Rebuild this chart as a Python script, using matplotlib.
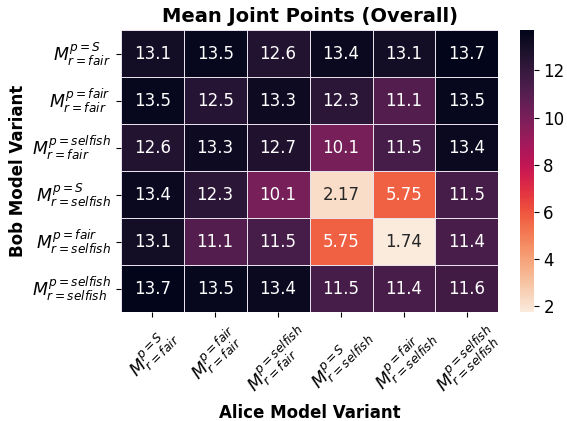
import numpy as np
import matplotlib
matplotlib.use("Agg")
import matplotlib.pyplot as plt
import seaborn as sns

labels = [r"$M^{p=S}_{r=fair}$", r"$M^{p=fair}_{r=fair}$", r"$M^{p=selfish}_{r=fair}$",
          r"$M^{p=S}_{r=selfish}$", r"$M^{p=fair}_{r=selfish}$", r"$M^{p=selfish}_{r=selfish}$"]

row0 = [13.1, 13.5, 12.6, 13.4, 13.1, 13.7]
row1 = [13.5, 12.5, 13.3, 12.3, 11.1, 13.5]
row2 = [12.6, 13.3, 12.7, 10.1, 11.5, 13.4]
row3 = [13.4, 12.3, 10.1, 2.17, 5.75, 11.5]
row4 = [13.1, 11.1, 11.5, 5.75, 1.74, 11.4]
row5 = [13.7, 13.5, 13.4, 11.5, 11.4, 11.6]
values = np.array([row0, row1, row2, row3, row4, row5])

fig = plt.figure(figsize=(5.67, 4.21), dpi=100)
ax = fig.add_axes([0.213, 0.258, 0.666, 0.67])
cax = fig.add_axes([0.917, 0.258, 0.024, 0.67])

sns.heatmap(values, ax=ax, cbar_ax=cax, cmap="rocket_r", annot=True, fmt=".3g",
            annot_kws={"size": 12}, linewidths=0.5, linecolor="#e8e0ea",
            xticklabels=labels, yticklabels=labels)

ax.set_title("Mean Joint Points (Overall)", fontsize=14, fontweight="bold")
ax.set_xlabel("Alice Model Variant", fontsize=12, fontweight="bold", labelpad=4)
ax.set_ylabel("Bob Model Variant", fontsize=12, fontweight="bold")
ax.tick_params(axis="x", labelsize=12.5, rotation=45)
ax.tick_params(axis="y", labelsize=12.5, rotation=0)
cax.tick_params(labelsize=12)
cax.set_yticks([2, 4, 6, 8, 10, 12])

fig.savefig("out.png", dpi=100)
